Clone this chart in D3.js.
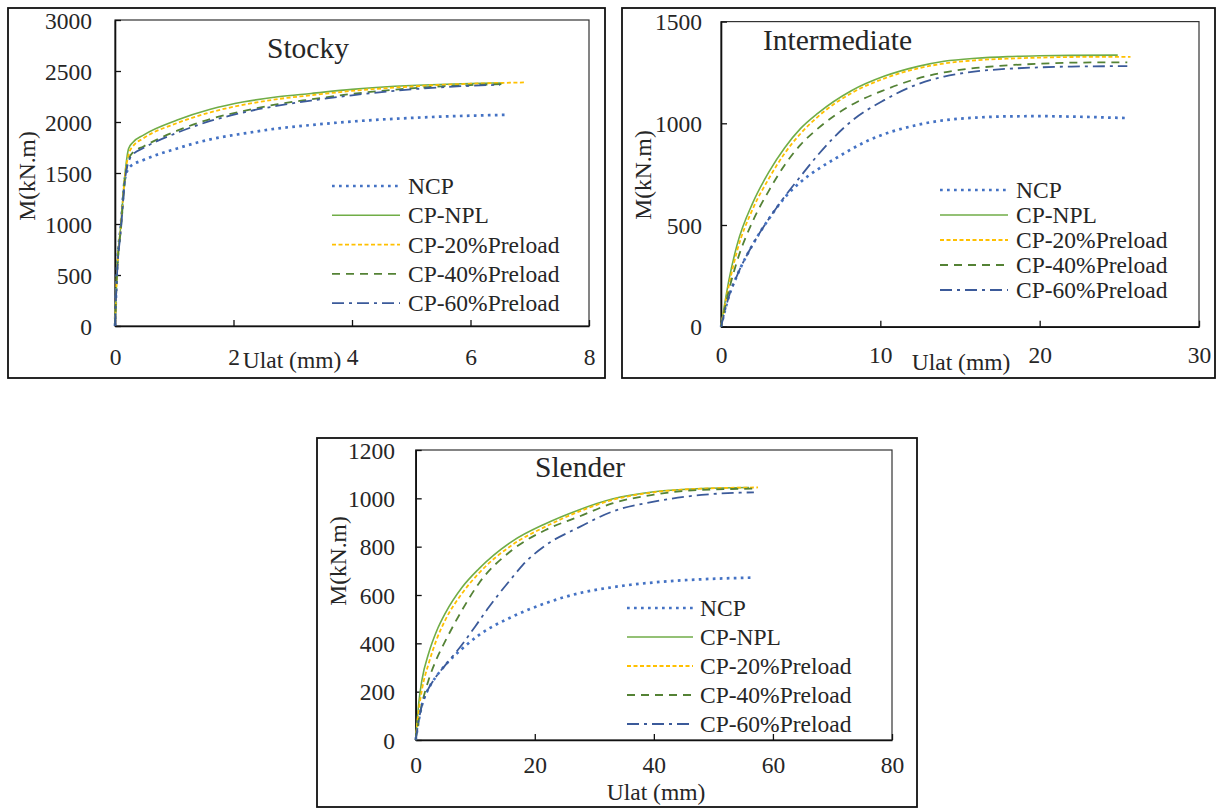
<!DOCTYPE html>
<html><head><meta charset="utf-8">
<script src="https://cdn.jsdelivr.net/npm/d3@7"></script>
<style>
body{margin:0;background:#fff}
svg{display:block}
text{font-family:"Liberation Serif","Times New Roman",serif;fill:#262626}
</style>
</head><body>
<svg id="chart" width="1221" height="809"></svg>
<script>
// ---------- data ----------
const seriesNames = ["NCP", "CP-NPL", "CP-20%Preload", "CP-40%Preload", "CP-60%Preload"];

// Stocky panel [Ulat (mm), M (kN.m)]
const stockyNCP = [[0,0],[0.03,500],[0.1,1000],[0.17,1450],[0.25,1560],[0.48,1627],[1.05,1741],[1.61,1830],[2.18,1888],[2.75,1937],[3.31,1970],[4,2005],[5,2040],[6,2062],[6.6,2070]];
const stockyNPL = [[0,0],[0.03,500],[0.1,1000],[0.17,1500],[0.23,1741],[0.3,1800],[0.48,1872],[1.05,2019],[1.61,2124],[2.18,2198],[2.75,2247],[3.31,2280],[4,2320],[5,2358],[6,2378],[6.55,2383]];
const stocky20 = [[0,0],[0.03,480],[0.1,980],[0.17,1480],[0.24,1700],[0.3,1760],[0.48,1840],[1.05,1990],[1.61,2095],[2.18,2170],[2.75,2225],[3.31,2262],[4,2305],[5,2348],[6,2375],[6.93,2388]];
const stocky40 = [[0,0],[0.03,470],[0.1,960],[0.17,1450],[0.25,1660],[0.3,1700],[0.48,1760],[1.05,1915],[1.61,2030],[2.18,2110],[2.75,2175],[3.31,2222],[4,2275],[5,2330],[6,2362],[6.6,2372]];
const stocky60 = [[0,0],[0.03,460],[0.1,950],[0.17,1440],[0.25,1640],[0.3,1680],[0.48,1745],[1.05,1895],[1.61,2010],[2.18,2095],[2.75,2160],[3.31,2210],[4,2262],[5,2320],[6,2355],[6.5,2365]];
const stockyXTicks = [0, 2, 4, 6, 8];
const stockyYTicks = [0, 500, 1000, 1500, 2000, 2500, 3000];

// Intermediate panel
const interNCP = [[0,0],[0.5,150],[1,250],[2,405],[3,530],[4,635],[5,712],[6,770],[7.14,825],[9.23,915],[12.37,993],[14,1015],[16,1028],[18,1034],[20,1035],[22,1033],[24,1029],[25.4,1026]];
const interNPL = [[0,0],[0.5,230],[1,400],[2,610],[3,760],[4,880],[5,975],[6.09,1050],[8.18,1160],[10.27,1232],[12.37,1280],[14,1305],[16,1320],[18,1328],[20,1332],[22,1334],[24.9,1335]];
const inter20 = [[0,0],[0.5,205],[1,370],[2,580],[3,728],[4,853],[5,950],[6.09,1033],[8.18,1148],[10.27,1221],[12.37,1270],[14,1294],[16,1310],[18,1318],[20,1323],[22,1326],[25.7,1327]];
const inter40 = [[0,0],[0.5,180],[1,320],[2,520],[3,668],[4,795],[5,895],[6.09,975],[8.18,1090],[10.27,1164],[12.37,1221],[14,1250],[16,1272],[18,1285],[20,1293],[22,1298],[25.5,1300]];
const inter60 = [[0,0],[0.5,150],[1,250],[2,405],[3,530],[4,640],[5,740],[6.09,845],[7.14,935],[8.18,1010],[10.27,1115],[11.95,1180],[14,1230],[16,1255],[18,1268],[20,1275],[22,1279],[25.5,1281]];
const interXTicks = [0, 10, 20, 30];
const interYTicks = [0, 500, 1000, 1500];

// Slender panel
const slenderNCP = [[0,0],[0.5,80],[1.06,145],[1.8,195],[2.5,228],[3.5,265],[4.98,310],[7.8,378],[10.6,434],[16.2,510],[21.8,566],[27.4,607],[33,632],[40,652],[48,665],[56.8,672]];
const slenderNPL = [[0,0],[0.5,150],[1.06,250],[2.19,360],[3.5,450],[4.98,525],[7.8,632],[10.6,708],[16.2,822],[21.8,895],[27.4,952],[33,997],[40,1027],[48,1041],[56,1045]];
const slender20 = [[0,0],[0.5,120],[1.06,210],[2.19,317],[3.5,415],[4.98,497],[7.8,607],[10.6,690],[16.2,807],[21.8,883],[27.4,945],[33,993],[40,1025],[48,1040],[57.5,1045]];
const slender40 = [[0,0],[0.5,80],[1.06,150],[2.19,250],[3.5,335],[4.98,410],[7.8,538],[10.6,648],[16.2,786],[21.8,869],[27.4,924],[33,979],[40,1015],[48,1035],[56.8,1040]];
const slender60 = [[0,0],[0.5,80],[1.06,145],[1.8,195],[2.5,228],[3.5,265],[4.98,310],[7.8,395],[10,470],[12.3,550],[14,605],[16.2,672],[18,725],[21.8,805],[27.4,880],[33,945],[40,986],[48,1014],[56.8,1025]];
const slenderXTicks = [0, 20, 40, 60, 80];
const slenderYTicks = [0, 200, 400, 600, 800, 1000, 1200];

const panelTitles = ["Stocky", "Intermediate", "Slender"];
const xAxisTitle = "Ulat (mm)";
const yAxisTitle = "M(kN.m)";

// ---------- styles / layout ----------
const seriesStyles = [
  {color:"#4472C4", width:2.7, dash:"2.7,4.3"},
  {color:"#70AD47", width:1.6, dash:null},
  {color:"#FFC000", width:1.8, dash:"4,2.5"},
  {color:"#548235", width:1.8, dash:"8,6"},
  {color:"#3B5A9A", width:1.8, dash:"12,5,3,5"}
];

const panels = [
  {title:panelTitles[0], series:[stockyNCP,stockyNPL,stocky20,stocky40,stocky60], xTicks:stockyXTicks, yTicks:stockyYTicks,
   outer:[8,8,605,378], plot:{l:115,t:20,r:589,b:326}, yTickRight:92, xTickBase:365,
   titlePos:[267,58], xTitlePos:[292,368], yTitlePos:[27,176], legend:{x1:332,x2:400,tx:408,y0:186,dy:29.3}},
  {title:panelTitles[1], series:[interNCP,interNPL,inter20,inter40,inter60], xTicks:interXTicks, yTicks:interYTicks,
   outer:[622,8,1215,378], plot:{l:721,t:21.6,r:1199,b:326.7}, yTickRight:702, xTickBase:363,
   titlePos:[763,50], xTitlePos:[961,370], yTitlePos:[643,175], legend:{x1:940,x2:1008,tx:1016,y0:190,dy:25}},
  {title:panelTitles[2], series:[slenderNCP,slenderNPL,slender20,slender40,slender60], xTicks:slenderXTicks, yTicks:slenderYTicks,
   outer:[317,438,917,807], plot:{l:415.7,t:450,r:892,b:740}, yTickRight:395, xTickBase:773,
   titlePos:[535,477], xTitlePos:[656,800], yTitlePos:[338,561], legend:{x1:627,x2:693,tx:700,y0:608,dy:29}}
];

const svg = d3.select("#chart");
const FS = 23.5;

panels.forEach(p => {
  const g = svg.append("g");
  const [ox1, oy1, ox2, oy2] = p.outer;
  g.append("rect").attr("x", ox1).attr("y", oy1).attr("width", ox2-ox1).attr("height", oy2-oy1)
    .attr("fill", "#fff").attr("stroke", "#111").attr("stroke-width", 1.8);

  const x = d3.scaleLinear().domain([p.xTicks[0], p.xTicks[p.xTicks.length-1]]).range([p.plot.l, p.plot.r]);
  const y = d3.scaleLinear().domain([p.yTicks[0], p.yTicks[p.yTicks.length-1]]).range([p.plot.b, p.plot.t]);

  // frame
  g.append("rect").attr("x", p.plot.l).attr("y", p.plot.t).attr("width", p.plot.r-p.plot.l).attr("height", p.plot.b-p.plot.t)
    .attr("fill", "none").attr("stroke", "#333").attr("stroke-width", 1.2);

  // y axis
  const ya = g.append("g").attr("transform", `translate(${p.plot.l},0)`)
    .call(d3.axisLeft(y).tickValues(p.yTicks).tickSizeInner(-6).tickSizeOuter(0).tickFormat(d => String(d)));
  ya.select(".domain").attr("stroke", "#111").attr("stroke-width", 1.6);
  ya.selectAll(".tick line").attr("stroke", "#111").attr("stroke-width", 1.3);
  ya.selectAll(".tick text").attr("x", p.yTickRight - p.plot.l).attr("dy", "0.34em")
    .attr("font-size", FS).attr("font-family", null).attr("text-anchor", "end");

  // x axis
  const xa = g.append("g").attr("transform", `translate(0,${p.plot.b})`)
    .call(d3.axisBottom(x).tickValues(p.xTicks).tickSizeInner(-6).tickSizeOuter(0).tickFormat(d => String(d)));
  xa.select(".domain").attr("stroke", "#111").attr("stroke-width", 1.6);
  xa.selectAll(".tick line").attr("stroke", "#111").attr("stroke-width", 1.3);
  xa.selectAll(".tick text").attr("y", p.xTickBase - p.plot.b).attr("dy", null)
    .attr("font-size", FS).attr("font-family", null);

  // curves
  const line = d3.line().x(d => x(d[0])).y(d => y(d[1])).curve(d3.curveMonotoneX);
  p.series.forEach((s, i) => {
    const st = seriesStyles[i];
    g.append("path").datum(s).attr("d", line).attr("fill", "none")
      .attr("stroke", st.color).attr("stroke-width", st.width)
      .attr("stroke-dasharray", st.dash).attr("stroke-linejoin", "round");
  });

  // legend
  seriesNames.forEach((name, i) => {
    const st = seriesStyles[i];
    const ly = p.legend.y0 + i * p.legend.dy;
    g.append("line").attr("x1", p.legend.x1).attr("x2", p.legend.x2).attr("y1", ly).attr("y2", ly)
      .attr("stroke", st.color).attr("stroke-width", st.width).attr("stroke-dasharray", st.dash);
    g.append("text").attr("x", p.legend.tx).attr("y", ly).attr("dy", "0.34em")
      .attr("font-size", FS).text(name);
  });

  // titles
  g.append("text").attr("x", p.titlePos[0]).attr("y", p.titlePos[1]).attr("font-size", 29.5).text(p.title);
  g.append("text").attr("x", p.xTitlePos[0]).attr("y", p.xTitlePos[1]).attr("text-anchor", "middle")
    .attr("font-size", FS).text(xAxisTitle);
  g.append("text").attr("transform", `translate(${p.yTitlePos[0]},${p.yTitlePos[1]}) rotate(-90)`)
    .attr("text-anchor", "middle").attr("dy", "0.34em").attr("font-size", FS).text(yAxisTitle);
});
</script>
</body></html>
